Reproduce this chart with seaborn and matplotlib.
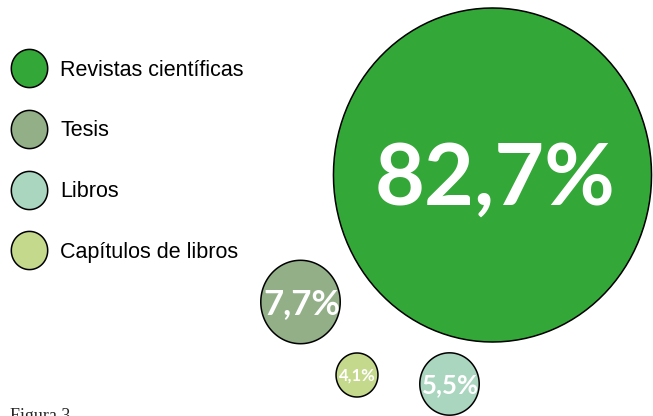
import pandas as pd
import numpy as np
import seaborn as sns
import matplotlib.pyplot as plt
from matplotlib.lines import Line2D
from matplotlib.path import Path

categorias = ["Revistas científicas", "Tesis", "Libros", "Capítulos de libros"]
porcentajes = [82.7, 7.7, 5.5, 4.1]
etiquetas = ["82,7%", "7,7%", "5,5%", "4,1%"]
colores = ["#33a737", "#93af88", "#aad5bf", "#c4d98b"]

# bubble centres in pixel units (layout only)
pos_x = [492.5, 300.5, 449.5, 357]
pos_y = [175, 302, 384, 375]
font_sizes = [62, 25, 18.5, 12]

df = pd.DataFrame({"cat": categorias, "pct": porcentajes, "x": pos_x, "y": pos_y})

# the original is stretched a little vertically, so bubbles are slightly oval
t = np.linspace(0, 2 * np.pi, 121)
oval = Path(np.column_stack([np.cos(t) / 1.05, np.sin(t)]), closed=True)

sns.set_style("white")
fig = plt.figure(figsize=(6.53, 4.16), dpi=100)
ax = fig.add_axes([0, 0, 1, 1])

sns.scatterplot(data=df, x="x", y="y", hue="cat", palette=colores, size="pct",
                sizes=(1004, 57840), size_norm=(4.1, 82.7), marker=oval,
                edgecolor="black", linewidth=1.1, alpha=1, legend=False, ax=ax, zorder=2)

for i in range(len(df)):
    ax.text(pos_x[i] + font_sizes[i] * 0.04, pos_y[i] + font_sizes[i] * 0.08, etiquetas[i],
            color="white", fontsize=font_sizes[i], fontweight="bold", family="Lato",
            ha="center", va="center", zorder=3)

handles = [Line2D([], [], marker=oval, linestyle="", markersize=27.5,
                  markerfacecolor=c, markeredgecolor="black", markeredgewidth=1.1)
           for c in colores]
leg = ax.legend(handles, categorias, loc="upper left", bbox_to_anchor=(0.0, 0.888),
                frameon=False, fontsize=15.5, labelspacing=1.85, handletextpad=0.7,
                borderaxespad=0.2, handlelength=1.5)
for txt in leg.get_texts():
    txt.set_family("Liberation Sans")
    txt.set_color("black")

ax.text(10, 408, "Figura 3", fontsize=13, family="Liberation Serif", va="top", ha="left")

ax.set_xlim(0, 653)
ax.set_ylim(416, 0)
ax.axis("off")

fig.savefig("out.png", dpi=100)
